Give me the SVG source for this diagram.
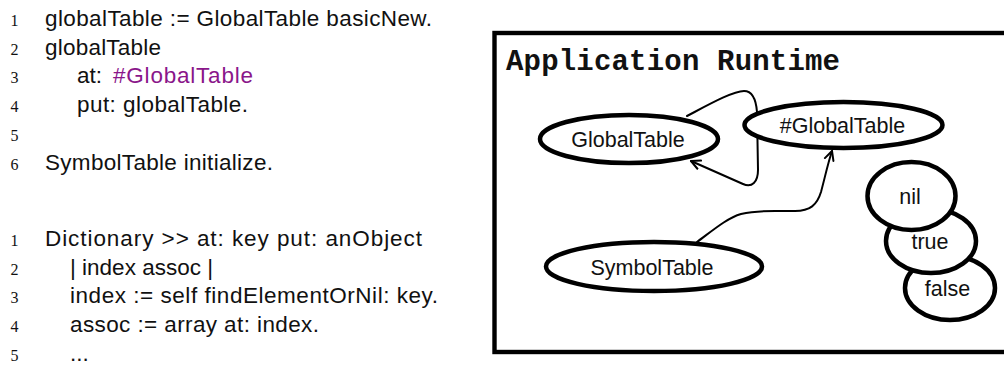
<svg xmlns="http://www.w3.org/2000/svg" width="1004" height="365" viewBox="0 0 1004 365">
<style>
.code{font-family:"Liberation Sans","Helvetica",Arial,sans-serif;font-size:22.5px;fill:#111}
.num{font-family:"Liberation Serif","Times New Roman",serif;font-size:16px;fill:#111;text-anchor:middle}
.sym{fill:#8a168a}
.title{font-family:"Liberation Mono","Courier New",monospace;font-weight:bold;font-size:29px;fill:#111}
.node ellipse{fill:#fff;stroke:#000;stroke-width:4.5}
.node text{font-family:"Liberation Sans","Helvetica",Arial,sans-serif;font-size:21.5px;fill:#111;text-anchor:middle}
.edge{fill:none;stroke:#000;stroke-width:2;stroke-linecap:round;stroke-linejoin:round}
</style>
<defs>
<marker id="arr" viewBox="0 0 12 12" refX="10" refY="6" markerWidth="12" markerHeight="12" markerUnits="userSpaceOnUse" orient="auto">
<path d="M1,1.5 L10,6 L1,10.5" fill="none" stroke="#000" stroke-width="2" stroke-linecap="round" stroke-linejoin="round"/>
</marker>
</defs>
<rect width="1004" height="365" fill="#fff"/>

<g id="code-top">
<text class="num" x="14.5" y="26">1</text>
<text class="code" x="45" y="26" textLength="387">globalTable := GlobalTable basicNew.</text>
<text class="num" x="14.5" y="54.7">2</text>
<text class="code" x="45" y="54.7" textLength="116">globalTable</text>
<text class="num" x="14.5" y="83.4">3</text>
<text class="code" x="77" y="83.4" textLength="25">at:</text>
<text class="code sym" x="113" y="83.4" textLength="140">#GlobalTable</text>
<text class="num" x="14.5" y="112.1">4</text>
<text class="code" x="77" y="112.1" textLength="171">put: globalTable.</text>
<text class="num" x="14.5" y="140.8">5</text>
<text class="num" x="14.5" y="169.5">6</text>
<text class="code" x="45" y="169.5" textLength="228">SymbolTable initialize.</text>
</g>

<g id="code-bottom">
<text class="num" x="14.5" y="246">1</text>
<text class="code" x="45" y="246" textLength="377">Dictionary &gt;&gt; at: key put: anObject</text>
<text class="num" x="14.5" y="274.7">2</text>
<text class="code" x="70" y="274.7" textLength="143">| index assoc |</text>
<text class="num" x="14.5" y="303.4">3</text>
<text class="code" x="70" y="303.4" textLength="368">index := self findElementOrNil: key.</text>
<text class="num" x="14.5" y="332.1">4</text>
<text class="code" x="70" y="332.1" textLength="249">assoc := array at: index.</text>
<text class="num" x="14.5" y="360.8">5</text>
<text class="code" x="70" y="360.8">...</text>
</g>

<g id="runtime-frame">
<rect x="494.5" y="33" width="620" height="319" fill="none" stroke="#000" stroke-width="4.4"/>
<text class="title" x="506" y="70" textLength="334">Application Runtime</text>
</g>

<g id="connectors">
<path class="edge" marker-end="url(#arr)" d="M687,116 C708,105 733,91 744,91 C752,91 756,99 757,112 L758,170 C758,182 752,188 743,184 L691,161"/>
<path class="edge" marker-end="url(#arr)" d="M697,242 C712,231 727,218 741,214 C750,212 760,211 775,211 L795,211 C810,211 817,205 821,192 C825,177 828,163 832,151"/>
</g>

<g id="node-GlobalTable" class="node">
<ellipse cx="629" cy="139" rx="89" ry="24"/>
<text x="628" y="147">GlobalTable</text>
</g>
<g id="node-sym-GlobalTable" class="node">
<ellipse cx="843.5" cy="125" rx="99" ry="23"/>
<text x="842.5" y="133">#GlobalTable</text>
</g>
<g id="node-SymbolTable" class="node">
<ellipse cx="654" cy="266.5" rx="108" ry="24.5"/>
<text x="652" y="275">SymbolTable</text>
</g>
<g id="node-false" class="node">
<ellipse cx="950" cy="288" rx="45" ry="32"/>
<text x="947.5" y="296">false</text>
</g>
<g id="node-true" class="node">
<ellipse cx="931" cy="241" rx="45" ry="32"/>
<text x="930" y="249">true</text>
</g>
<g id="node-nil" class="node">
<ellipse cx="911.5" cy="196" rx="44" ry="34"/>
<text x="910" y="204">nil</text>
</g>
</svg>
